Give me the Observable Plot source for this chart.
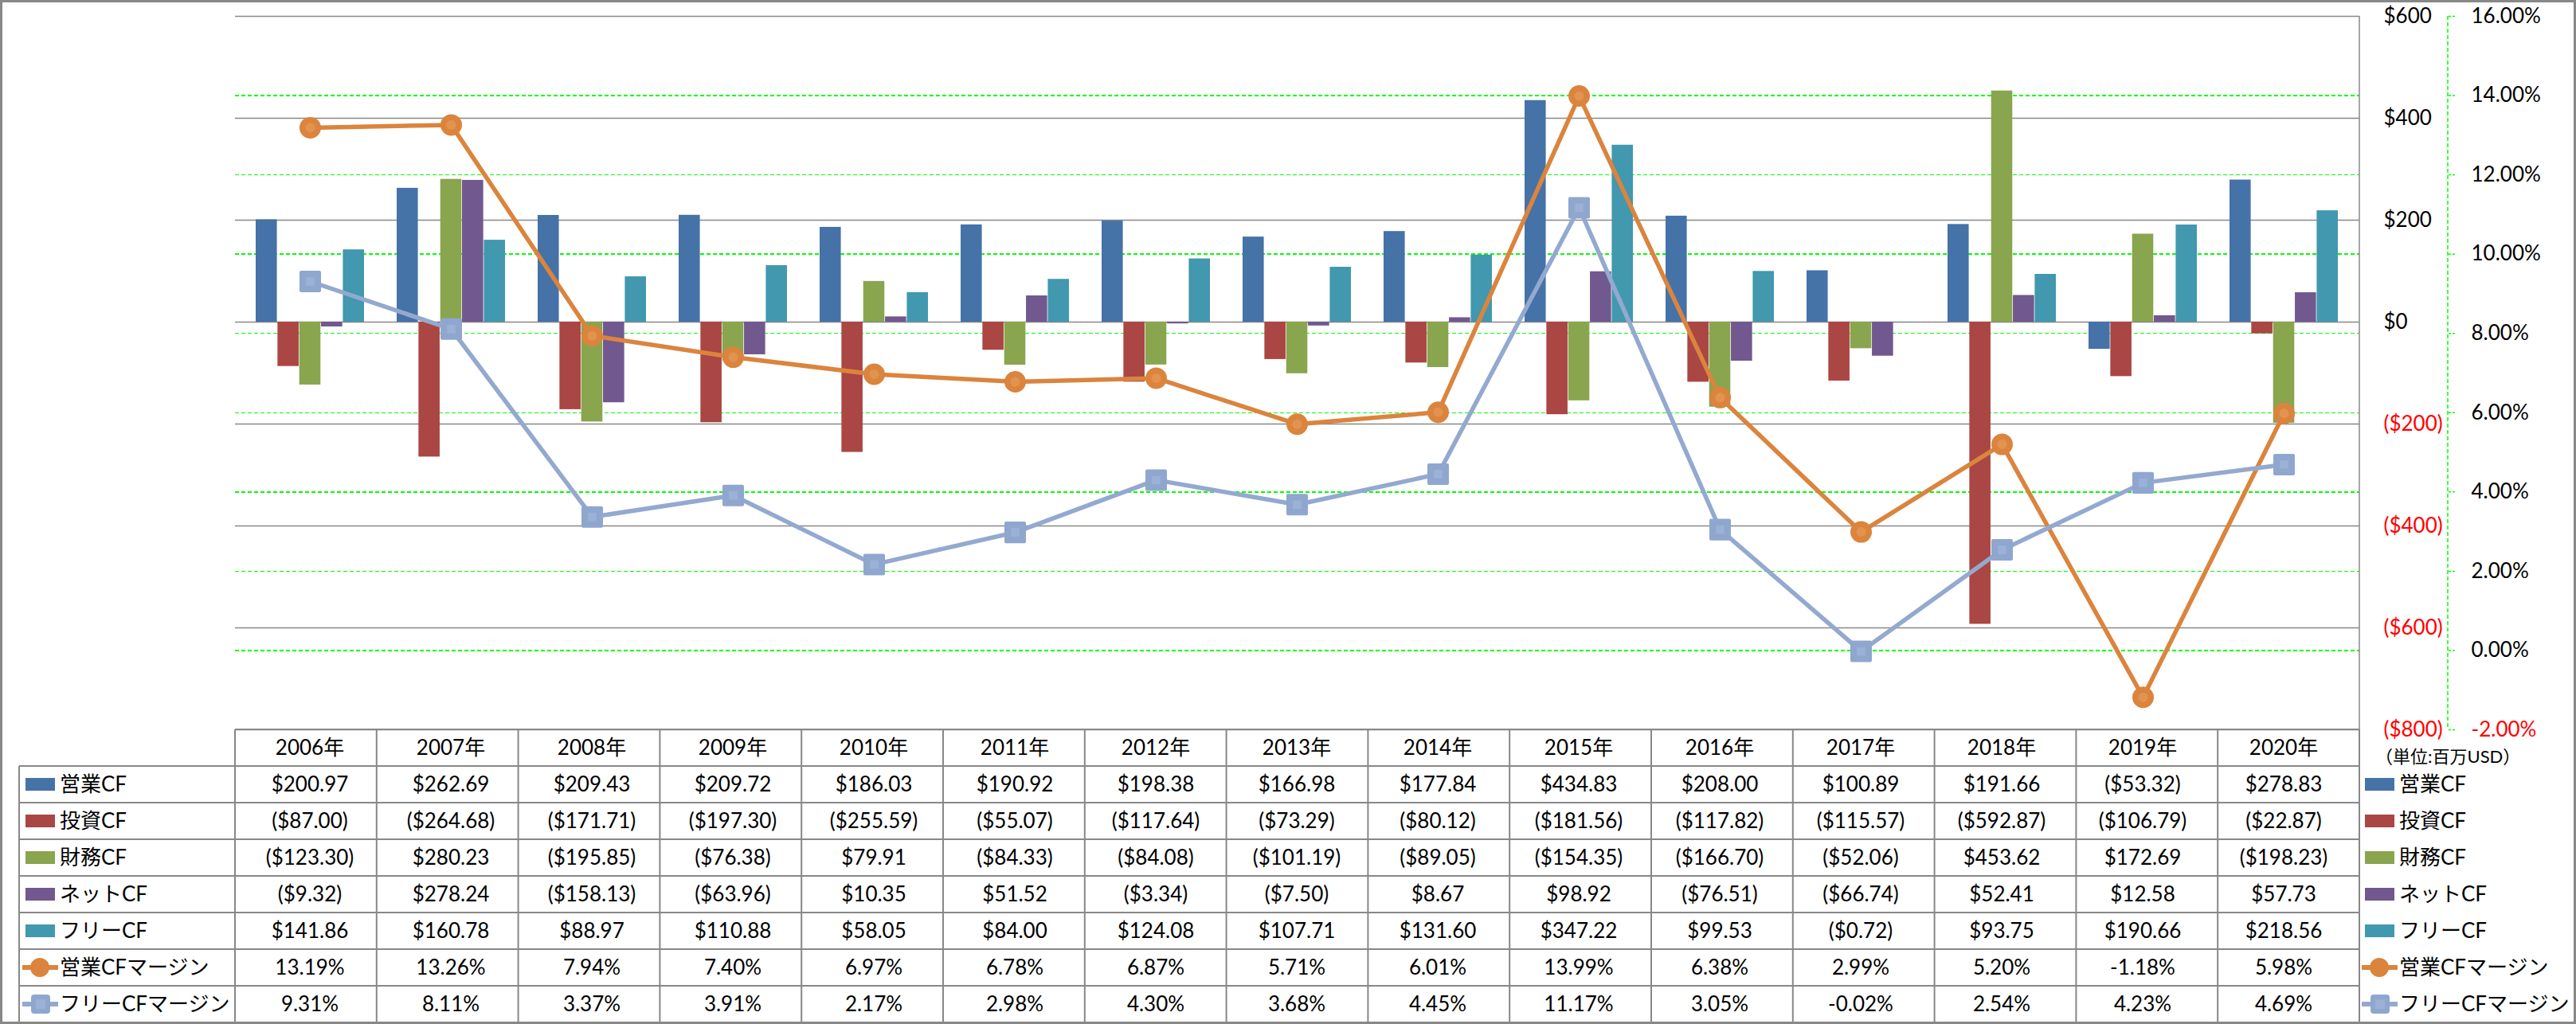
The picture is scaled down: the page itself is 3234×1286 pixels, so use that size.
<!DOCTYPE html>
<html>
<head>
<meta charset="utf-8">
<script src="https://cdn.jsdelivr.net/npm/d3@7"></script>
<script src="https://cdn.jsdelivr.net/npm/@observablehq/plot@0.6"></script>
<style>
html,body{margin:0;padding:0;background:#fff;}
#root{position:relative;width:3234px;height:1286px;overflow:hidden;font-family:Lato,"Noto Sans CJK JP",sans-serif;color:#000;}
#chart{position:absolute;left:0;top:0;}
#table{position:absolute;left:0;top:0;pointer-events:none;}
#frame{position:absolute;left:0;top:0;width:3234px;height:1286px;box-sizing:border-box;border:3px solid #888;pointer-events:none;}
</style>
</head>
<body>
<div id="root"><div id="chart"></div><svg id="table" width="3234" height="1286"></svg><div id="frame"></div></div>
<script>
// ---- data ----
const years = ["2006年","2007年","2008年","2009年","2010年","2011年","2012年","2013年","2014年","2015年","2016年","2017年","2018年","2019年","2020年"];
const opCF   = [200.97, 262.69, 209.43, 209.72, 186.03, 190.92, 198.38, 166.98, 177.84, 434.83, 208.00, 100.89, 191.66, -53.32, 278.83];
const invCF  = [-87.00, -264.68, -171.71, -197.30, -255.59, -55.07, -117.64, -73.29, -80.12, -181.56, -117.82, -115.57, -592.87, -106.79, -22.87];
const finCF  = [-123.30, 280.23, -195.85, -76.38, 79.91, -84.33, -84.08, -101.19, -89.05, -154.35, -166.70, -52.06, 453.62, 172.69, -198.23];
const netCF  = [-9.32, 278.24, -158.13, -63.96, 10.35, 51.52, -3.34, -7.50, 8.67, 98.92, -76.51, -66.74, 52.41, 12.58, 57.73];
const freeCF = [141.86, 160.78, 88.97, 110.88, 58.05, 84.00, 124.08, 107.71, 131.60, 347.22, 99.53, -0.72, 93.75, 190.66, 218.56];
const opMargin   = [13.19, 13.26, 7.94, 7.40, 6.97, 6.78, 6.87, 5.71, 6.01, 13.99, 6.38, 2.99, 5.20, -1.18, 5.98];
const freeMargin = [9.31, 8.11, 3.37, 3.91, 2.17, 2.98, 4.30, 3.68, 4.45, 11.17, 3.05, -0.02, 2.54, 4.23, 4.69];

const barNames  = ["営業CF","投資CF","財務CF","ネットCF","フリーCF"];
const lineNames = ["営業CFマージン","フリーCFマージン"];
const dollarTicks = [-800,-600,-400,-200,0,200,400,600];
const pctTicks = [-2,0,2,4,6,8,10,12,14,16];
const unitLabel = "（単位:百万USD）";

// ---- styles ----
const barColors = ["#4572A7","#AA4643","#89A54E","#71588F","#4198AF"];
const orange = "#DB843D", lblue = "#93A9CF";
const gridGray = "#888888", green = "#00FF00";

// ---- layout ----
const W = 3234, H = 940;
const mL = 295, mR = 272, mT = 20, mB = 24;
const pIn = 1.5/6.5, pOut = pIn/2;
const plotW = W - mL - mR;
const step = plotW / (years.length - pIn + 2*pOut);
const bw = step*(1-pIn);
const w = bw/5;

const yDom = [-800, 600], pDom = [-2, 16];
const toY = p => yDom[0] + (p - pDom[0])/(pDom[1]-pDom[0])*(yDom[1]-yDom[0]);
const fromY = v => pDom[0] + (v - yDom[0])/(yDom[1]-yDom[0])*(pDom[1]-pDom[0]);

const series = [opCF, invCF, finCF, netCF, freeCF];
const rows = years.map((year,i)=>({year, v: series.map(s=>s[i]), om: opMargin[i], fm: freeMargin[i]}));

const fmtAxis = v => v < 0 ? `($${-v})` : `$${v}`;
const fmtPct = p => `${(Math.round(p*100)/100).toFixed(2)}%`;
const fmtMoney = v => v < 0 ? `($${(-v).toFixed(2)})` : `$${v.toFixed(2)}`;

const barMarks = series.map((s,i)=>Plot.barY(rows, {
  x:"year", y: d=>d.v[i], fill: barColors[i],
  insetLeft: i*w, insetRight: (4-i)*w
}));

const chart = Plot.plot({
  width: W, height: H,
  marginLeft: mL, marginRight: mR, marginTop: mT, marginBottom: mB,
  style: {fontFamily: 'Lato, "Noto Sans CJK JP", sans-serif', fontSize: "26px", background: "transparent", overflow: "visible", color: "#000"},
  x: {type: "band", domain: years, paddingInner: pIn, paddingOuter: pOut, axis: null},
  y: {domain: yDom, label: null},
  marks: [
    Plot.ruleY(pctTicks, {y: d=>toY(d), stroke: green, strokeWidth: 1.5, strokeDasharray: "5,3", shapeRendering: "crispEdges"}),
    Plot.ruleY(dollarTicks, {stroke: gridGray, strokeWidth: 1.5}),
    ...barMarks,
    Plot.line(rows, {x:"year", y: d=>toY(d.om), stroke: orange, strokeWidth: 5.5}),
    Plot.dot(rows, {x:"year", y: d=>toY(d.om), r: 13.5, fill: orange}),
    Plot.dot(rows, {x:"year", y: d=>toY(d.om), r: 6, fill: "#E29350"}),
    Plot.line(rows, {x:"year", y: d=>toY(d.fm), stroke: lblue, strokeWidth: 5.5}),
    Plot.dot(rows, {x:"year", y: d=>toY(d.fm), symbol: "square", r: 13, fill: "#8FA7CE", stroke: "#8FA7CE", strokeWidth: 4, strokeLinejoin: "round"}),
    Plot.dot(rows, {x:"year", y: d=>toY(d.fm), symbol: "square", r: 6, fill: "#9BB1D6"}),
    Plot.axisY(dollarTicks.filter(d=>d>=0), {anchor: "right", tickSize: 0, tickPadding: 30, tickFormat: fmtAxis, label: null, color: "#000"}),
    Plot.axisY(dollarTicks.filter(d=>d<0), {anchor: "right", tickSize: 0, tickPadding: 30, tickFormat: fmtAxis, label: null, color: "#FF0000"}),
    Plot.axisY(pctTicks.filter(d=>d>=0).map(toY), {anchor: "right", dx: 111, tickSize: 10, tickPadding: 19, tickFormat: v=>fmtPct(fromY(v)), label: null, color: "#000", stroke: green, strokeDasharray: "3,2", strokeWidth: 1.5}),
    Plot.axisY(pctTicks.filter(d=>d<0).map(toY), {anchor: "right", dx: 111, tickSize: 10, tickPadding: 19, tickFormat: v=>fmtPct(fromY(v)), label: null, color: "#FF0000", stroke: green, strokeDasharray: "3,2", strokeWidth: 1.5})
  ]
});
document.getElementById("chart").appendChild(chart);

// decorations: right plot edge line and secondary axis line
const ys = chart.scale("y"), xs = chart.scale("x");
const [yB, yT] = ys.range;
const svgC = d3.select(chart);
svgC.append("line").attr("x1", W-mR).attr("x2", W-mR).attr("y1", yT).attr("y2", yB)
  .attr("stroke", gridGray).attr("stroke-width", 1.5);
svgC.append("line").attr("x1", W-mR+111).attr("x2", W-mR+111).attr("y1", yT).attr("y2", yB)
  .attr("stroke", green).attr("stroke-width", 1.5).attr("stroke-dasharray", "5,3");

// ---- data table ----
const t = d3.select("#table");
const font = 'Lato, "Noto Sans CJK JP", sans-serif';
const tTop = yB, rowH = 46, tLeft = 24, xL = W - mR;
const colW = plotW / years.length;
const nRows = barNames.length + lineNames.length;
const lineG = t.append("g").attr("stroke", gridGray).attr("stroke-width", 2);
// horizontal lines
for (let r = 0; r <= nRows + 1; r++) {
  const y = tTop + r*rowH;
  lineG.append("line").attr("x1", r <= 0 ? mL : tLeft).attr("x2", xL).attr("y1", y).attr("y2", y);
}
// vertical lines
lineG.append("line").attr("x1", tLeft).attr("x2", tLeft).attr("y1", tTop+rowH).attr("y2", tTop+(nRows+1)*rowH);
for (let j = 0; j <= years.length; j++) {
  const x = mL + j*colW;
  lineG.append("line").attr("x1", x).attr("x2", x).attr("y1", tTop).attr("y2", tTop+(nRows+1)*rowH);
}
const txt = (x, y, s, anchor="middle", size=26, fill="#000") =>
  t.append("text").attr("x", x).attr("y", y).attr("dy", "0.35em").attr("text-anchor", anchor)
   .attr("font-family", font).attr("font-size", size).attr("fill", fill).text(s);

years.forEach((yr,j)=> txt(xs.apply(yr) + xs.bandwidth/2, tTop + rowH/2, yr));

const allRows = [
  ...barNames.map((n,i)=>({name:n, kind:"bar", color:barColors[i], vals: series[i], fmt: fmtMoney})),
  {name: lineNames[0], kind:"circle", color: orange, vals: opMargin, fmt: fmtPct},
  {name: lineNames[1], kind:"square", color: lblue, vals: freeMargin, fmt: fmtPct}
];
function legendKey(x0, ym, r) {
  if (r.kind === "bar") {
    t.append("rect").attr("x", x0).attr("y", ym-8).attr("width", 37).attr("height", 16).attr("fill", r.color);
  } else {
    t.append("line").attr("x1", x0-4).attr("x2", x0+41).attr("y1", ym).attr("y2", ym).attr("stroke", r.color).attr("stroke-width", 6);
    if (r.kind === "circle") {
      t.append("circle").attr("cx", x0+18).attr("cy", ym).attr("r", 12).attr("fill", r.color);
    } else {
      t.append("rect").attr("x", x0+7).attr("y", ym-12).attr("width", 24).attr("height", 24).attr("rx", 4).attr("fill", "#8FA7CE");
      t.append("rect").attr("x", x0+13).attr("y", ym-6).attr("width", 12).attr("height", 12).attr("fill", "#9BB1D6");
    }
  }
}
allRows.forEach((r,k)=>{
  const ym = tTop + (k+1)*rowH + rowH/2;
  legendKey(32, ym, r);
  txt(75, ym, r.name, "start");
  r.vals.forEach((v,j)=> txt(xs.apply(years[j]) + xs.bandwidth/2, ym, r.fmt(v)));
  // right legend
  legendKey(2969, ym, r);
  txt(3012, ym, r.name, "start");
});
txt(2982, tTop + 34, unitLabel, "start", 22);
</script>
</body>
</html>
